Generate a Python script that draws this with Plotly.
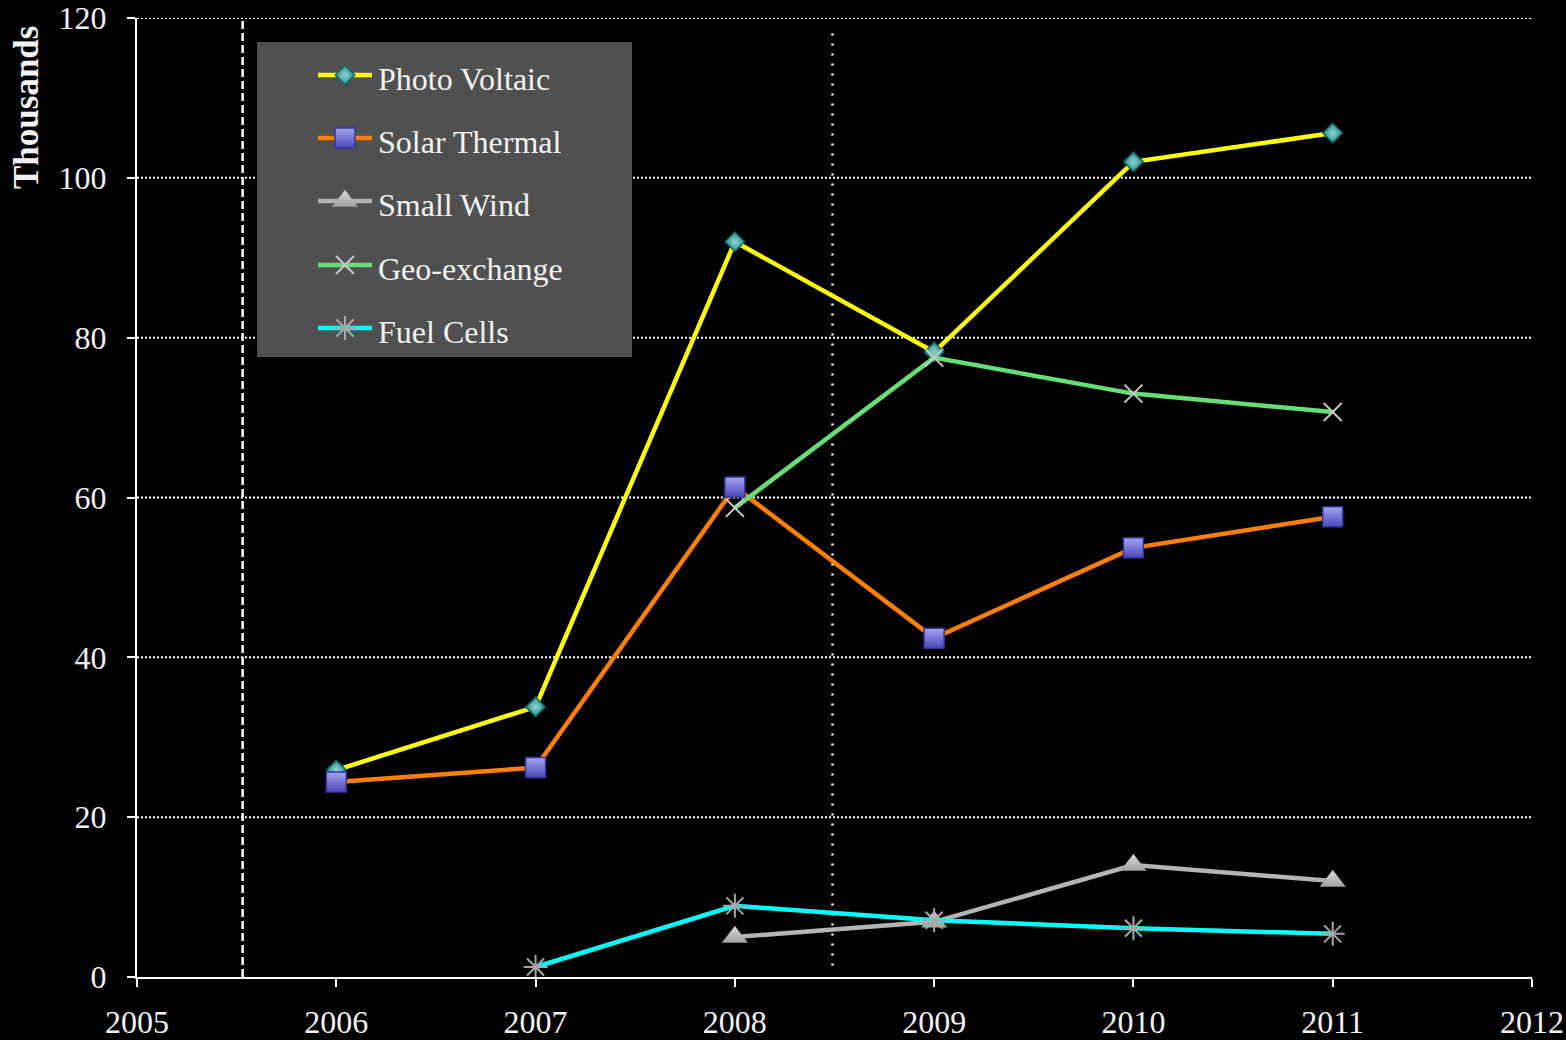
import plotly.graph_objects as go

# Installations per year, in thousands
years = [2006, 2007, 2008, 2009, 2010, 2011]
photo_voltaic = [25.9, 33.8, 92.0, 78.2, 102.0, 105.6]
solar_thermal = [24.4, 26.2, 61.3, 42.4, 53.7, 57.6]
small_wind = [None, None, 5.0, 6.9, 14.0, 12.0]
geo_exchange = [None, None, 58.7, 77.5, 73.0, 70.7]
fuel_cells = [None, 1.25, 8.9, 7.1, 6.1, 5.4]

series_names = ["Photo Voltaic", "Solar Thermal", "Small Wind", "Geo-exchange", "Fuel Cells"]
series_values = [photo_voltaic, solar_thermal, small_wind, geo_exchange, fuel_cells]

x_ticks = [2005, 2006, 2007, 2008, 2009, 2010, 2011, 2012]
y_ticks = [0, 20, 40, 60, 80, 100, 120]
reference_years = [2005.53, 2008.49]

FONT = "Liberation Serif"
TEXT = "#f2f2f2"

# Plot area in screen pixels
W, H = 1566, 1040
L, R, T, B = 137, 34, 18, 63
PX0, PX1, PY0, PY1 = L, W - R, T, H - B


def px(x):
    return (x - PX0) / (PX1 - PX0)


def py(y):
    return (PY1 - y) / (PY1 - PY0)


line_colors = ["#ffff00", "#ff7f00", "#b4b4b4", "#66dd77", "#00ffff"]
markers = [
    dict(symbol="diamond", size=15, color="#2a8c8c",
         gradient=dict(type="radial", color="#8fd2d2"),
         line=dict(color="#0b6464", width=1.5)),
    dict(symbol="square", size=20, color="#a4a4f0",
         gradient=dict(type="vertical", color="#4a4ab8"),
         line=dict(color="#3434a0", width=1.5)),
    dict(symbol="triangle-up", size=22, color="#dcdcdc",
         gradient=dict(type="vertical", color="#a0a0a0"),
         line=dict(color="#9a9a9a", width=0.5)),
    dict(symbol="x-thin-open", size=18, color="#c8c8c8",
         line=dict(color="#c8c8c8", width=2)),
    dict(symbol="asterisk-open", size=20, color="#a8a8a8",
         line=dict(color="#a8a8a8", width=2)),
]

fig = go.Figure()

for name, vals, lc, mk in zip(series_names, series_values, line_colors, markers):
    xs = [x for x, v in zip(years, vals) if v is not None]
    ys = [v for v in vals if v is not None]
    fig.add_trace(go.Scatter(
        x=xs, y=ys, name=name, mode="lines+markers",
        line=dict(color=lc, width=4.5),
        marker=mk, showlegend=False,
    ))

# Dotted horizontal gridlines
for yt in y_ticks[1:]:
    fig.add_shape(type="line", xref="paper", yref="y", x0=0, x1=1, y0=yt, y1=yt,
                  line=dict(color="white", width=2, dash="2px,2px"), layer="below")

# Vertical reference lines
fig.add_shape(type="line", xref="x", yref="paper", x0=reference_years[0], x1=reference_years[0],
              y0=0, y1=1, line=dict(color="white", width=2.5, dash="8px,4px"), layer="below")
fig.add_shape(type="line", xref="x", yref="paper", x0=reference_years[1], x1=reference_years[1],
              y0=0.012, y1=0.99, line=dict(color="white", width=2.5, dash="2px,8px"), layer="below")

# Legend box
fig.add_shape(type="rect", xref="paper", yref="paper", x0=px(257), x1=px(632),
              y0=py(357), y1=py(42), fillcolor="#505050", line=dict(width=0), layer="below")

legend_rows = [75, 138, 201, 265, 328]
for name, lc, mk, ry in zip(series_names, line_colors, markers, legend_rows):
    fig.add_shape(type="line", xref="paper", yref="paper", x0=px(318), x1=px(372),
                  y0=py(ry), y1=py(ry), line=dict(color=lc, width=4.5), layer="below")
    fig.add_trace(go.Scatter(
        x=[345], y=[ry], xaxis="x2", yaxis="y2", mode="markers",
        marker=mk, showlegend=False, hoverinfo="skip",
    ))
    fig.add_annotation(x=px(376), y=py(ry + 4), xref="paper", yref="paper", text=name,
                       showarrow=False, xanchor="left", yanchor="middle",
                       font=dict(family=FONT, size=32, color=TEXT))

fig.add_annotation(x=px(26), y=py(108), xref="paper", yref="paper", text="<b>Thousands</b>",
                   textangle=-90, showarrow=False, xanchor="center", yanchor="middle",
                   font=dict(family=FONT, size=35, color=TEXT))

fig.update_layout(
    width=W, height=H,
    paper_bgcolor="black", plot_bgcolor="black",
    margin=dict(l=L, r=R, t=T, b=B),
    font=dict(family=FONT, size=32, color=TEXT),
    xaxis=dict(range=[2005, 2012], tickvals=x_ticks, ticktext=[str(t) for t in x_ticks],
               showgrid=False, zeroline=False, showline=True, linecolor="white", linewidth=2,
               ticks="outside", ticklen=8, tickwidth=2, tickcolor="white",
               ticklabelstandoff=8, automargin=False),
    yaxis=dict(range=[0, 120], tickvals=y_ticks, showgrid=False, zeroline=False,
               showline=True, linecolor="white", linewidth=2, ticks="outside", ticklen=8,
               tickwidth=2, tickcolor="white", ticklabelstandoff=14, automargin=False),
    xaxis2=dict(overlaying="x", range=[PX0, PX1], visible=False, anchor="y2",
                automargin=False),
    yaxis2=dict(overlaying="y", range=[PY1, PY0], visible=False, anchor="x2",
                automargin=False),
)

fig.write_html("out.html")
